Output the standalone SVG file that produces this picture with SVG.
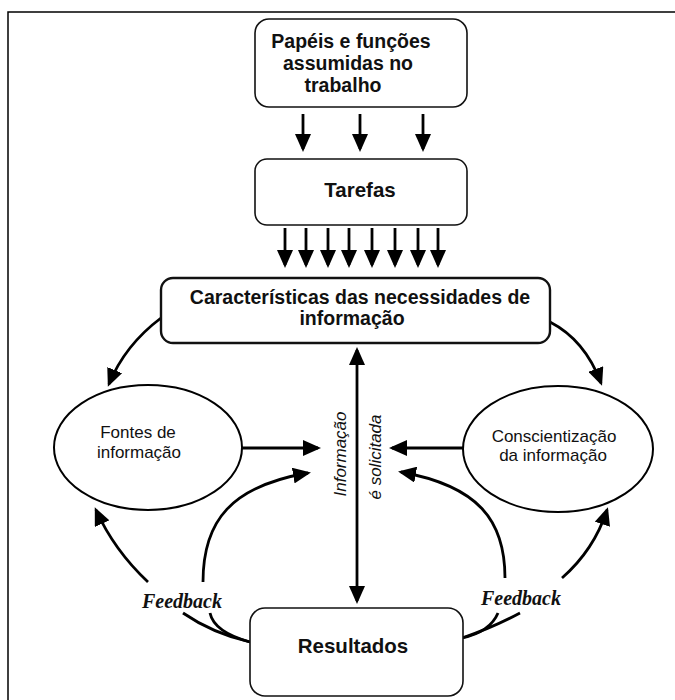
<svg xmlns="http://www.w3.org/2000/svg" width="675" height="700" viewBox="0 0 675 700">
<defs>
<marker id="ah" viewBox="0 0 18 16" refX="15" refY="8" markerWidth="18" markerHeight="16" markerUnits="userSpaceOnUse" orient="auto-start-reverse">
<path d="M0,0 L18,8 L0,16 z" fill="#000"/>
</marker>
<style>
.box{fill:#fff;stroke:#111;stroke-width:1.6}
.ell{fill:#fff;stroke:#000;stroke-width:2}
.t{font-family:"Liberation Sans",Arial,sans-serif;font-weight:bold;fill:#111;text-anchor:middle}
.r{font-family:"Liberation Sans",Arial,sans-serif;fill:#111;text-anchor:middle;font-size:17px}
.fb{font-family:"Liberation Serif","Times New Roman",serif;font-weight:bold;font-style:italic;font-size:20px;fill:#111;text-anchor:middle}
.c{fill:none;stroke:#000;stroke-width:2.8}
.a{fill:none;stroke:#000;stroke-width:2.8;marker-end:url(#ah)}
</style>
</defs>
<rect width="675" height="700" fill="#fff"/>
<path d="M8,700 V12 H675" fill="none" stroke="#000" stroke-width="1.5"/>

<g id="connectors">
<path class="a" d="M303,114 V149"/>
<path class="a" d="M360,114 V149"/>
<path class="a" d="M423,114 V149"/>
<path class="a" d="M285,228 V265"/>
<path class="a" d="M306,228 V265"/>
<path class="a" d="M328,228 V265"/>
<path class="a" d="M349,228 V265"/>
<path class="a" d="M372,228 V265"/>
<path class="a" d="M395,228 V265"/>
<path class="a" d="M418,228 V265"/>
<path class="a" d="M438,228 V265"/>
<path class="a" d="M161,318 Q125,345 109,384"/>
<path class="a" d="M550,322 Q585,340 601,383"/>
<path class="a" d="M357,350 V601" marker-start="url(#ah)"/>
<path class="a" d="M242,448 H318"/>
<path class="a" d="M463,448 H392"/>
<path class="a" d="M148,582 Q114,550 96,510"/>
<path class="a" d="M203,582 C203,520 232,486 308,473"/>
<path class="a" d="M505,578 C505,520 478,486 401,472"/>
<path class="a" d="M562,578 Q594,550 607,510"/>
<path class="c" d="M250,642 Q212,633 183,613"/>
<path class="c" d="M250,642 Q214,632 210,613"/>
<path class="c" d="M462,638 Q490,632 498,613"/>
<path class="c" d="M462,638 Q492,628 520,613"/>
</g>

<g id="papeis">
<rect class="box" x="255" y="19" width="212" height="88" rx="14"/>
<text class="t" font-size="19.5"><tspan x="351" y="48">Papéis e funções</tspan><tspan x="348" y="70">assumidas no</tspan><tspan x="343" y="92">trabalho</tspan></text>
</g>

<g id="tarefas">
<rect class="box" x="255" y="159" width="212" height="66" rx="12"/>
<text class="t" font-size="20.5" x="360" y="197">Tarefas</text>
</g>

<g id="caracteristicas">
<rect class="box" x="161" y="278" width="389" height="65" rx="12" style="stroke-width:2.4"/>
<text class="t" font-size="19.5"><tspan x="360" y="304">Características das necessidades de</tspan><tspan x="352" y="325">informação</tspan></text>
</g>

<g id="fontes">
<ellipse class="ell" cx="148" cy="447.5" rx="94" ry="62.5"/>
<text class="r"><tspan x="138" y="438">Fontes de</tspan><tspan x="139" y="458">informação</tspan></text>
</g>

<g id="conscientizacao">
<ellipse class="ell" cx="558" cy="449" rx="95" ry="63"/>
<text class="r"><tspan x="554" y="442">Conscientização</tspan><tspan x="553" y="461">da informação</tspan></text>
</g>

<g id="informacao-label">
<text class="r" font-style="italic" transform="translate(346,454) rotate(-90)">Informação</text>
<text class="r" font-style="italic" transform="translate(381,457) rotate(-90)">é solicitada</text>
</g>

<g id="resultados">
<rect class="box" x="250" y="608" width="213" height="88" rx="15"/>
<text class="t" font-size="20.5" x="353" y="653">Resultados</text>
</g>

<g id="feedback-labels">
<text class="fb" x="182" y="608">Feedback</text>
<text class="fb" x="521" y="605">Feedback</text>
</g>
</svg>
